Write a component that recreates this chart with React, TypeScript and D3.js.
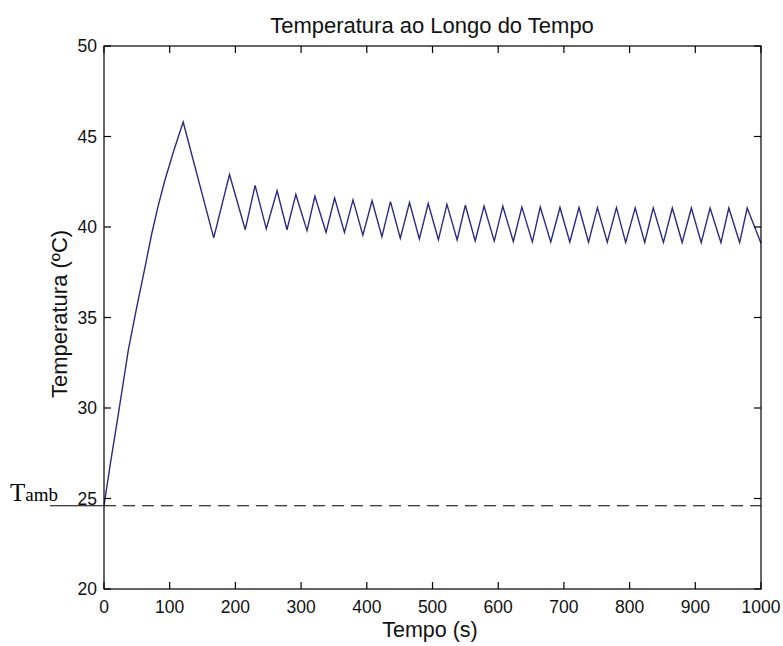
import * as d3 from 'd3'

const timeValues = [
  0, 10, 22, 37, 50, 62, 72.5, 82, 92, 106, 120.5,
  167, 191, 215, 230, 247, 263.5, 278.5, 292, 309, 321, 338, 351,
  366, 379, 394, 408, 423, 436, 451, 465, 480, 493.5, 509, 522,
  537.5, 550, 565, 578.5, 594, 607, 623, 636, 652, 664, 680, 694,
  709, 723, 737.5, 751, 766, 780, 794, 808.5, 823, 836, 851.5, 865,
  880, 894, 909, 922.5, 939, 951, 967.5, 979, 1000,
]

const tempValues = [
  24.6, 27.0, 29.7, 33.2, 35.6, 37.7, 39.6, 41.1, 42.5, 44.2, 45.8,
  39.4, 42.9, 39.85, 42.3, 39.9, 42.0, 39.85, 41.8, 39.8, 41.7, 39.7, 41.6,
  39.7, 41.5, 39.55, 41.45, 39.47, 41.4, 39.38, 41.35, 39.34, 41.3, 39.3, 41.25,
  39.28, 41.2, 39.23, 41.15, 39.22, 41.15, 39.2, 41.1, 39.18, 41.1, 39.17, 41.08,
  39.17, 41.08, 39.16, 41.07, 39.16, 41.07, 39.15, 41.06, 39.15, 41.06, 39.15, 41.05,
  39.14, 41.05, 39.14, 41.05, 39.14, 41.05, 39.14, 41.05, 39.1,
]

const xTicks = [0, 100, 200, 300, 400, 500, 600, 700, 800, 900, 1000]
const yTicks = [20, 25, 30, 35, 40, 45, 50]
const tAmb = 24.6

const W = 783
const H = 646
const left = 104
const right = 761
const top = 46
const bottom = 589
const tickLen = 7
const sans = 'Arial, "Liberation Sans", Helvetica, sans-serif'
const serif = '"Times New Roman", "Liberation Serif", serif'

export default function App() {
  const x = d3.scaleLinear().domain([0, 1000]).range([left, right])
  const y = d3.scaleLinear().domain([20, 50]).range([bottom, top])

  const points = timeValues.map((t, i) => [t, tempValues[i]] as [number, number])
  const line = d3.line<[number, number]>()
    .x(d => x(d[0]))
    .y(d => y(d[1]))

  return (
    <div style={{ position: 'absolute', left: 0, top: 0, width: W, height: H, background: '#fff' }}>
      <svg width={W} height={H} style={{ display: 'block' }}>
        <rect x={0} y={0} width={W} height={H} fill="#fff" />

        {/* T_amb reference line */}
        <line x1={50} x2={x(0)} y1={y(tAmb)} y2={y(tAmb)} stroke="#000" strokeWidth={1.2} />
        <line x1={x(0)} x2={x(1000)} y1={y(tAmb)} y2={y(tAmb)} stroke="#000" strokeWidth={1.2} strokeDasharray="12,7" />
        <text x={10} y={501} fontFamily={serif} fill="#000">
          <tspan fontSize={25}>T</tspan>
          <tspan fontSize={19}>amb</tspan>
        </text>

        {/* data */}
        <path d={line(points) ?? ''} fill="none" stroke="#2b2b80" strokeWidth={1.4} strokeLinejoin="miter" />

        {/* box */}
        <rect x={left} y={top} width={right - left} height={bottom - top} fill="none" stroke="#000" strokeWidth={1.2} />

        {/* x ticks */}
        {xTicks.map(t => (
          <g key={'x' + t}>
            <line x1={x(t)} x2={x(t)} y1={bottom} y2={bottom - tickLen} stroke="#000" strokeWidth={1.2} />
            <line x1={x(t)} x2={x(t)} y1={top} y2={top + tickLen} stroke="#000" strokeWidth={1.2} />
            <text x={x(t)} y={613} textAnchor="middle" fontFamily={sans} fontSize={17.5} fill="#111">{t}</text>
          </g>
        ))}

        {/* y ticks */}
        {yTicks.map(v => (
          <g key={'y' + v}>
            <line x1={left} x2={left + tickLen} y1={y(v)} y2={y(v)} stroke="#000" strokeWidth={1.2} />
            <line x1={right} x2={right - tickLen} y1={y(v)} y2={y(v)} stroke="#000" strokeWidth={1.2} />
            <text x={97} y={y(v)} dy="0.36em" textAnchor="end" fontFamily={sans} fontSize={17.5} fill="#111">{v}</text>
          </g>
        ))}

        <text x={432} y={33} textAnchor="middle" fontFamily={sans} fontSize={22} fill="#111">Temperatura ao Longo do Tempo</text>
        <text x={430} y={637} textAnchor="middle" fontFamily={sans} fontSize={21.5} fill="#111">Tempo (s)</text>
        <text transform={`translate(67,314) rotate(-90)`} textAnchor="middle" fontFamily={sans} fontSize={22} fill="#111">Temperatura (ºC)</text>
      </svg>
    </div>
  )
}
